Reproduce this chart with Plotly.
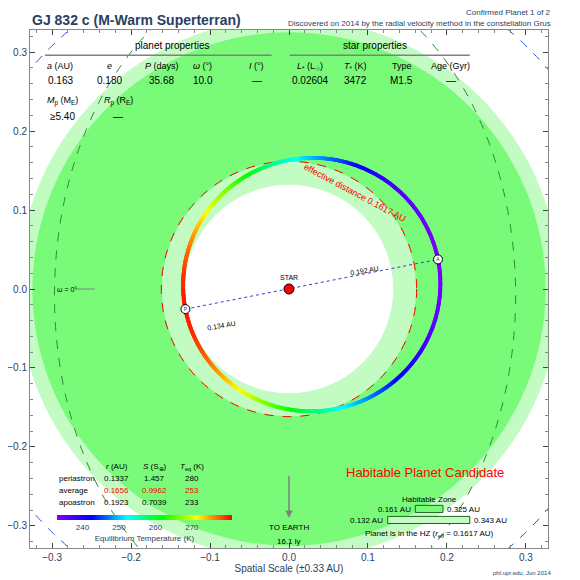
import numpy as np
import plotly.graph_objects as go

# ---- data ----
a_au = 0.163
ecc = 0.180
omega_deg = 10.0
r_peri, r_avg, r_apo = 0.1337, 0.1656, 0.1923
T_peri = 280
hz_cons = [0.161, 0.325]
hz_opt = [0.132, 0.343]
r_eff = 0.1617
cb_ticks = [240, 250, 260, 270]
t_min, t_max = 233, 281

planet_hdr = ["<i>a</i> (AU)", "<i>e</i>", "<i>P</i> (days)", "<i>ω</i> (°)", "<i>I</i> (°)"]
planet_val = ["0.163", "0.180", "35.68", "10.0", "—"]
star_hdr = ["<i>L</i><sub>*</sub> (L<sub>☉</sub>)", "<i>T</i><sub>*</sub> (K)", "Type", "Age (Gyr)"]
star_val = ["0.02604", "3472", "M1.5", "—"]
col_x = [-0.290, -0.227, -0.161, -0.109, -0.041, 0.027, 0.084, 0.143, 0.205]
orb_rows = ["periastron", "average", "apoastron"]
orb_r = ["0.1337", "0.1656", "0.1923"]
orb_s = ["1.457", "0.9962", "0.7039"]
orb_t = ["280", "253", "233"]

FONT = "Liberation Sans, Arial, sans-serif"
fig = go.Figure()

def circ(r, fill, line=None, dash=None, cx=0, cy=0, rx=None, ry=None, layer="below"):
    rx = rx or r; ry = ry or r
    fig.add_shape(type="circle", xref="x", yref="y", x0=cx-rx, x1=cx+rx, y0=cy-ry, y1=cy+ry,
                  fillcolor=fill, line=dict(color=line or "rgba(0,0,0,0)", width=1, dash=dash), layer=layer)

circ(hz_opt[1], "#c3fcc3")
circ(hz_cons[1], "#79fa79")
circ(hz_cons[0], "#c3fcc3")
circ(hz_opt[0], "white")
circ(None, "rgba(0,0,0,0)", line="#2e8b2e", dash="dash", cx=-0.005, cy=-0.008, rx=0.292, ry=0.414)
circ(0.43, "rgba(0,0,0,0)", line="#3355dd", dash="dash")
circ(r_eff, "rgba(0,0,0,0)", line="red", dash="dash")

nu = np.linspace(0, 2*np.pi, 800)
rr = a_au*(1-ecc**2)/(1+ecc*np.cos(nu))
phi = nu + np.deg2rad(180 + omega_deg + 1)
ox, oy = rr*np.cos(phi), rr*np.sin(phi)
temp = T_peri*np.sqrt(r_peri/rr)
cs = [[0, '#7f00ff'], [0.2, '#0000ff'], [0.4, '#00ffff'], [0.6, '#00ff00'], [0.8, '#ffff00'], [1, '#ff0000']]
fig.add_trace(go.Scatter(x=ox, y=oy, mode="markers",
    marker=dict(size=4, color=temp, colorscale=cs, cmin=t_min, cmax=t_max,
                colorbar=dict(orientation="h", x=0.221, xanchor="center", len=0.338, y=0.063, yanchor="top",
                              thickness=5, outlinewidth=0, tickvals=cb_ticks, ticks="", ypad=0, xpad=0,
                              tickfont=dict(size=8, family=FONT),
                              title=dict(text="Equilibrium Temperature (K)", side="bottom", font=dict(size=8, family=FONT)))),
    hoverinfo="skip", showlegend=False))

px_, py_ = ox[0], oy[0]
ax_, ay_ = ox[400], oy[400]
fig.add_trace(go.Scatter(x=[px_, ax_], y=[py_, ay_], mode="lines", line=dict(color="#3344cc", dash="dot", width=1), showlegend=False))
fig.add_trace(go.Scatter(x=[px_, ax_], y=[py_, ay_], mode="markers+text", text=["P", "A"],
    textposition="middle center", textfont=dict(size=6),
    marker=dict(size=9, color="white", line=dict(color="black", width=1)), showlegend=False))
fig.add_trace(go.Scatter(x=[0], y=[0], mode="markers", marker=dict(size=10, color="red", line=dict(color="black", width=1)), showlegend=False))
fig.add_trace(go.Scatter(x=[-0.271, -0.246], y=[0, 0], mode="lines", line=dict(color="gray", width=1), showlegend=False))

ann = []
def T(x, y, s, size=9, color="black", xa="center", ang=0):
    ann.append(dict(x=x, y=y, text=s, xref="x", yref="y", showarrow=False, xanchor=xa,
                    font=dict(size=size, color=color, family=FONT), textangle=ang))

T(0, 0.014, "STAR", 7)
T(-0.085, -0.046, "0.134 AU", 7, ang=-10)
T(0.096, 0.024, "0.192 AU", 7, ang=-10)
T(0.084, 0.122, "effective distance 0.1617 AU", 9, "red", ang=28)
T(-0.296, 0, "ω = 0°", 7, xa="left")
T(-0.148, 0.308, "planet properties", 10)
T(0.109, 0.308, "star properties", 10)
for i, (h, v) in enumerate(zip(planet_hdr + star_hdr, planet_val + star_val)):
    T(col_x[i], 0.282, h, 9)
    T(col_x[i], 0.264, v, 10)
T(-0.287, 0.238, "<i>M</i><sub>p</sub> (M<sub>E</sub>)", 9)
T(-0.216, 0.238, "<i>R</i><sub>p</sub> (R<sub>E</sub>)", 9)
T(-0.287, 0.219, "≥5.40", 10)
T(-0.216, 0.219, "—", 10)
T(-0.218, -0.225, "<i>r</i> (AU)", 8)
T(-0.170, -0.225, "<i>S</i> (S<sub>⊕</sub>)", 8)
T(-0.123, -0.225, "<i>T</i><sub>eq</sub> (K)", 8)
for j, ylv in enumerate([-0.240, -0.255, -0.270]):
    c = "red" if j == 1 else "black"
    T(-0.294, ylv, orb_rows[j], 8, xa="left")
    T(-0.218, ylv, orb_r[j], 8, c)
    T(-0.170, ylv, orb_s[j], 8, c)
    T(-0.123, ylv, orb_t[j], 8, c)
T(0.172, -0.232, "Habitable Planet Candidate", 13, "red")
T(0.178, -0.266, "Habitable Zone", 8)
T(0.157, -0.279, "0.161 AU", 8, xa="right")
T(0.198, -0.279, "0.325 AU", 8, xa="left")
T(0.122, -0.293, "0.132 AU", 8, xa="right")
T(0.232, -0.293, "0.343 AU", 8, xa="left")
T(0.178, -0.310, "Planet is in the HZ (<i>r</i><sub>eff</sub> = 0.1617 AU)", 8)
T(0, -0.302, "TO EARTH", 8)
T(0, -0.320, "16.1 ly", 8)
ann.append(dict(x=0, y=-0.29, ax=0, ay=-0.235, xref="x", yref="y", axref="x", ayref="y",
                showarrow=True, arrowhead=2, arrowcolor="gray", arrowwidth=1.5, text=""))
ann.append(dict(x=0.0, y=1.02, xref="paper", yref="paper", yanchor="middle", text="<b>GJ 832 c (M-Warm Superterran)</b>",
                showarrow=False, xanchor="left", font=dict(size=14, family=FONT)))
ann.append(dict(x=1.01, y=1.033, xref="paper", yref="paper", yanchor="middle", text="Confirmed Planet 1 of 2",
                showarrow=False, xanchor="right", font=dict(size=8, family=FONT)))
ann.append(dict(x=1.01, y=1.013, xref="paper", yref="paper", yanchor="middle", text="Discovered on 2014 by the radial velocity method in the constellation Grus",
                showarrow=False, xanchor="right", font=dict(size=8, family=FONT)))
ann.append(dict(x=1.01, y=-0.048, xref="paper", yref="paper", yanchor="middle", text="phl.upr.edu, Jun 2014",
                showarrow=False, xanchor="right", font=dict(size=6, family=FONT)))
fig.update_layout(annotations=ann)

fig.add_shape(type="line", xref="x", yref="y", x0=-0.309, x1=-0.022, y0=0.296, y1=0.296, line=dict(color="gray", width=1.5))
fig.add_shape(type="line", xref="x", yref="y", x0=0.001, x1=0.229, y0=0.296, y1=0.296, line=dict(color="gray", width=1.5))
fig.add_shape(type="rect", xref="x", yref="y", x0=0.160, x1=0.195, y0=-0.283, y1=-0.274, fillcolor="#79fa79", line=dict(color="#226622", width=1))
fig.add_shape(type="rect", xref="x", yref="y", x0=0.125, x1=0.229, y0=-0.297, y1=-0.288, fillcolor="#c3fcc3", line=dict(color="#226622", width=1))

ax = dict(range=[-0.328, 0.328], dtick=0.1, tickformat=".1f", ticks="inside", ticklen=5, mirror="allticks",
          showline=True, linecolor="#888", linewidth=1, showgrid=False, zeroline=False, automargin=False,
          tickfont=dict(size=10, family=FONT),
          minor=dict(dtick=0.02, ticks="inside", ticklen=3, tickcolor="#888"))
fig.update_xaxes(**ax, title=dict(text="Spatial Scale (±0.33 AU)", font=dict(size=10, family=FONT), standoff=2))
fig.update_yaxes(**ax)
fig.update_layout(width=572, height=572, margin=dict(l=22, r=32, t=22, b=32, autoexpand=False),
                  plot_bgcolor="white", paper_bgcolor="white", showlegend=False)
fig.write_html("out.html")
